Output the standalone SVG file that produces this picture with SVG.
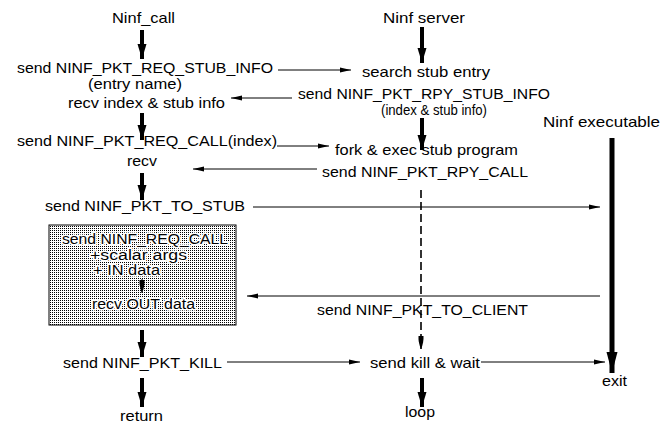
<svg xmlns="http://www.w3.org/2000/svg" width="667" height="436" viewBox="0 0 667 436">
<style>
text{font-family:"Liberation Sans",Arial,sans-serif;font-size:15px;fill:#000}
.box text{font-size:14px}
.sm{font-size:14px}
.thin{stroke:#000;stroke-width:1;fill:none}
.thick{stroke:#000;stroke-width:4;fill:none}
.dash{stroke:#000;stroke-width:1.6;fill:none;stroke-dasharray:8 4}
.halo{stroke:#fff;stroke-width:3;paint-order:stroke;stroke-linejoin:round}
</style>
<defs>
<pattern id="dots" width="2" height="2" patternUnits="userSpaceOnUse">
<rect width="2" height="2" fill="#fff"/>
<rect width="1" height="1" fill="#000"/>
</pattern>
<marker id="ah" markerUnits="userSpaceOnUse" markerWidth="12" markerHeight="8" refX="11" refY="4" orient="auto">
<path d="M0,1.5 L11,4 L0,6.5 Z" fill="#000"/>
</marker>
<marker id="big" markerUnits="userSpaceOnUse" markerWidth="16" markerHeight="10" refX="15" refY="5" orient="auto">
<path d="M0,0.5 L15,5 L0,9.5 Z" fill="#000"/>
</marker>
<marker id="bigx" markerUnits="userSpaceOnUse" markerWidth="22" markerHeight="12" refX="21" refY="6" orient="auto">
<path d="M0,0.5 L21,6 L0,11.5 Z" fill="#000"/>
</marker>
<marker id="small" markerUnits="userSpaceOnUse" markerWidth="14" markerHeight="8" refX="13" refY="4" orient="auto">
<path d="M0,1.5 Q6,1 13,4 Q6,7 0,6.5 Z" fill="#000"/>
</marker>
</defs>

<g id="connectors">
<line class="thick" x1="142" y1="30" x2="142" y2="59" marker-end="url(#big)"/>
<line class="thick" x1="142" y1="113" x2="142" y2="140" marker-end="url(#big)"/>
<line class="thick" x1="142" y1="173" x2="142" y2="200" marker-end="url(#big)"/>
<line class="thick" x1="142" y1="330" x2="142" y2="357" marker-end="url(#big)"/>
<line class="thick" x1="142" y1="378" x2="142" y2="407" marker-end="url(#big)"/>
<line class="thick" x1="422" y1="27" x2="422" y2="63" marker-end="url(#big)"/>
<line class="thick" x1="422" y1="118" x2="422" y2="150" marker-end="url(#big)"/>
<line class="thick" x1="422" y1="378" x2="422" y2="407" marker-end="url(#big)"/>
<line x1="612" y1="138" x2="612" y2="373" stroke="#000" stroke-width="5" marker-end="url(#bigx)"/>
<line class="dash" x1="421" y1="190" x2="421" y2="349" marker-end="url(#small)"/>
<line class="thin" x1="278" y1="70" x2="351" y2="70" marker-end="url(#ah)"/>
<line class="thin" x1="292" y1="98" x2="231" y2="98" marker-end="url(#ah)"/>
<line class="thin" x1="277" y1="146" x2="329" y2="146" marker-end="url(#ah)"/>
<line class="thin" x1="317" y1="169" x2="193" y2="169" marker-end="url(#ah)"/>
<line class="thin" x1="253" y1="207" x2="600" y2="207" marker-end="url(#ah)"/>
<line class="thin" x1="600" y1="296" x2="247" y2="296" marker-end="url(#ah)"/>
<line class="thin" x1="227" y1="362" x2="360" y2="362" marker-end="url(#ah)"/>
<line class="thin" x1="481" y1="362" x2="605" y2="362" marker-end="url(#ah)"/>
</g>

<g id="client">
<text x="112" y="23" textLength="63" lengthAdjust="spacingAndGlyphs">Ninf_call</text>
<text x="17" y="73" textLength="256" lengthAdjust="spacingAndGlyphs">send NINF_PKT_REQ_STUB_INFO</text>
<text class="sm" x="88" y="89" textLength="94" lengthAdjust="spacingAndGlyphs">(entry name)</text>
<text x="68" y="108" textLength="157" lengthAdjust="spacingAndGlyphs">recv index &amp; stub info</text>
<text x="17" y="146" textLength="260" lengthAdjust="spacingAndGlyphs">send NINF_PKT_REQ_CALL(index)</text>
<text x="127" y="166" textLength="30" lengthAdjust="spacingAndGlyphs">recv</text>
<text x="45" y="211" textLength="200" lengthAdjust="spacingAndGlyphs">send NINF_PKT_TO_STUB</text>
<text x="63" y="368" textLength="159" lengthAdjust="spacingAndGlyphs">send NINF_PKT_KILL</text>
<text x="120" y="421" textLength="43" lengthAdjust="spacingAndGlyphs">return</text>
</g>

<g id="stub-box" class="box">
<rect x="49" y="225" width="187" height="100" fill="url(#dots)" stroke="#000" stroke-width="1"/>
<text class="halo" x="62" y="244" textLength="166" lengthAdjust="spacingAndGlyphs">send NINF_REQ_CALL</text>
<text class="halo" x="90" y="260" textLength="97" lengthAdjust="spacingAndGlyphs">+scalar args</text>
<text class="halo" x="93" y="275" textLength="67" lengthAdjust="spacingAndGlyphs">+ IN data</text>
<line x1="142" y1="279" x2="142" y2="293" stroke="#000" stroke-width="1" marker-end="url(#small)"/>
<text class="halo" x="92" y="309" textLength="103" lengthAdjust="spacingAndGlyphs">recv OUT data</text>
</g>

<g id="server">
<text x="383" y="23" textLength="82" lengthAdjust="spacingAndGlyphs">Ninf server</text>
<text x="362" y="77" textLength="128" lengthAdjust="spacingAndGlyphs">search stub entry</text>
<text x="298" y="99" textLength="252" lengthAdjust="spacingAndGlyphs">send NINF_PKT_RPY_STUB_INFO</text>
<text class="sm" x="381" y="115" textLength="106" lengthAdjust="spacingAndGlyphs">(index &amp; stub info)</text>
<text x="335" y="155" textLength="183" lengthAdjust="spacingAndGlyphs">fork &amp; exec stub program</text>
<text x="322" y="177" textLength="206" lengthAdjust="spacingAndGlyphs">send NINF_PKT_RPY_CALL</text>
<text x="317" y="315" textLength="211" lengthAdjust="spacingAndGlyphs">send NINF_PKT_TO_CLIENT</text>
<text x="370" y="368" textLength="110" lengthAdjust="spacingAndGlyphs">send kill &amp; wait</text>
<text x="405" y="417" textLength="30" lengthAdjust="spacingAndGlyphs">loop</text>
</g>

<g id="executable">
<text x="543" y="127" textLength="117" lengthAdjust="spacingAndGlyphs">Ninf executable</text>
<text x="602" y="386" textLength="25" lengthAdjust="spacingAndGlyphs">exit</text>
</g>
</svg>
